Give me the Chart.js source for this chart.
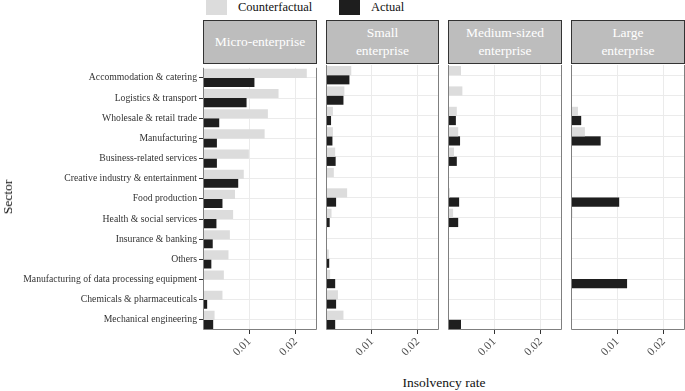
<!DOCTYPE html>
<html>
<head>
<meta charset="utf-8">
<script src="https://cdn.jsdelivr.net/npm/chart.js@4/dist/chart.umd.min.js"></script>
<style>
  html, body { margin:0; padding:0; background:#fff; }
  body { width:685px; height:391px; position:relative; overflow:hidden;
         font-family:'Liberation Serif','Times New Roman',serif; }
  canvas { position:absolute; }
  .strip { position:absolute; top:20px; height:44px; background:#bdbdbd; border:1px solid #333;
           box-sizing:border-box; color:#fff; font-size:13.5px; line-height:18px;
           display:flex; align-items:center; justify-content:center; text-align:center; }
  .lg-box { position:absolute; top:0; width:21px; height:15px; }
  .lg-txt { position:absolute; top:0; font-size:12.5px; line-height:15px; color:#111; }
  .title { position:absolute; font-size:13.5px; color:#111; }
</style>
</head>
<body>
<div class="lg-box" style="left:206px;background:#dcdcdc"></div>
<div class="lg-txt" style="left:238px">Counterfactual</div>
<div class="lg-box" style="left:339px;background:#1e1e1e"></div>
<div class="lg-txt" style="left:371px">Actual</div>

<div class="strip" style="left:203px;width:114px">Micro-enterprise</div>
<div class="strip" style="left:326px;width:113px">Small<br>enterprise</div>
<div class="strip" style="left:448px;width:114px">Medium-sized<br>enterprise</div>
<div class="strip" style="left:571px;width:114px">Large<br>enterprise</div>

<canvas id="c1" width="319" height="305" style="left:0px;top:60px"></canvas>
<canvas id="c2" width="117" height="305" style="left:324px;top:60px"></canvas>
<canvas id="c3" width="118" height="305" style="left:446px;top:60px"></canvas>
<canvas id="c4" width="116" height="305" style="left:569px;top:60px"></canvas>

<div class="title" style="left:0;width:16px;top:197px;">
  <div style="position:absolute;left:8px;top:0;transform:translate(-50%,-50%) rotate(-90deg);white-space:nowrap">Sector</div>
</div>
<div class="title" style="left:344px;width:200px;top:375px;text-align:center">Insolvency rate</div>

<script>
const categories = [
  "Accommodation & catering",
  "Logistics & transport",
  "Wholesale & retail trade",
  "Manufacturing",
  "Business-related services",
  "Creative industry & entertainment",
  "Food production",
  "Health & social services",
  "Insurance & banking",
  "Others",
  "Manufacturing of data processing equipment",
  "Chemicals & pharmaceuticals",
  "Mechanical engineering"
];
const seriesNames = ["Counterfactual", "Actual"];
const panelNames = ["Micro-enterprise", "Small enterprise", "Medium-sized enterprise", "Large enterprise"];
const xTicks = [0.01, 0.02];
const xMax = 0.0246;

const cfMicro  = [0.0224,0.0163,0.0140,0.0133,0.0099,0.0088,0.0069,0.0065,0.0058,0.0055,0.0045,0.0042,0.0025];
const acMicro  = [0.0111,0.0094,0.0035,0.0030,0.0030,0.0076,0.0042,0.0029,0.0021,0.0018,0,0.0009,0.0022];
const cfSmall  = [0.0055,0.0040,0.0015,0.0015,0.0020,0.0017,0.0046,0.0012,0,0.0006,0.0009,0.0026,0.0038];
const acSmall  = [0.0051,0.0038,0.0011,0.0014,0.0021,0,0.0022,0.0008,0,0.0007,0.0020,0.0022,0.0020];
const cfMedium = [0.0028,0.0031,0.0019,0.0022,0.0013,0,0.0004,0.0011,0,0,0,0,0.0002];
const acMedium = [0,0,0.0017,0.0026,0.0019,0,0.0024,0.0022,0,0,0,0,0.0028];
const cfLarge  = [0,0,0.0015,0.0030,0,0,0,0.0003,0,0,0,0,0];
const acLarge  = [0,0,0.0022,0.0064,0,0,0.0104,0,0,0,0.0121,0,0];

const FONT = "'Liberation Serif','Times New Roman',serif";

const borderPlugin = {
  id: 'panelBorder',
  afterDraw(chart) {
    const a = chart.chartArea, ctx = chart.ctx;
    ctx.save();
    ctx.strokeStyle = '#7f7f7f';
    ctx.lineWidth = 1;
    ctx.beginPath();
    ctx.moveTo(a.left + 0.5, a.top);
    ctx.lineTo(a.left + 0.5, a.bottom - 0.5);
    ctx.lineTo(a.right - 0.5, a.bottom - 0.5);
    ctx.lineTo(a.right - 0.5, a.top);
    ctx.stroke();
    ctx.restore();
  }
};

function makePanel(id, cf, ac, showLabels, padL, padR) {
  new Chart(document.getElementById(id), {
    type: 'bar',
    data: {
      labels: categories,
      datasets: [
        { label: seriesNames[0], data: cf, backgroundColor: '#dcdcdc', borderWidth: 0 },
        { label: seriesNames[1], data: ac, backgroundColor: '#1e1e1e', borderWidth: 0 }
      ]
    },
    options: {
      indexAxis: 'y',
      responsive: false,
      animation: false,
      devicePixelRatio: 1,
      categoryPercentage: 0.9,
      barPercentage: 1.0,
      layout: { padding: { top: 5, bottom: 0, left: padL, right: padR } },
      plugins: { legend: { display: false }, tooltip: { enabled: false } },
      scales: {
        x: {
          type: 'linear',
          min: 0, max: xMax,
          afterBuildTicks(scale) { scale.ticks = xTicks.map(v => ({ value: v })); },
          afterFit(scale) { scale.height = 35; },
          grid: { color: '#ebebeb', lineWidth: 1, drawTicks: true, tickLength: 4, tickColor: '#333' },
          border: { display: false },
          ticks: {
            minRotation: 45, maxRotation: 45, padding: 1,
            color: '#4d4d4d',
            font: { family: FONT, size: 11.5 },
            callback: v => String(v)
          }
        },
        y: {
          type: 'category',
          afterFit(scale) { scale.width = showLabels ? 203 : 0; },
          grid: { color: '#ebebeb', lineWidth: 1, offset: false,
                  drawTicks: showLabels, tickLength: 4, tickColor: '#333' },
          border: { display: false },
          ticks: {
            display: showLabels, padding: 2, autoSkip: false,
            color: '#333',
            font: { family: FONT, size: 9.7 }
          }
        }
      }
    },
    plugins: [borderPlugin]
  });
}

makePanel('c1', cfMicro, acMicro, true, 0, 2);
makePanel('c2', cfSmall, acSmall, false, 2, 2);
makePanel('c3', cfMedium, acMedium, false, 2, 2);
makePanel('c4', cfLarge, acLarge, false, 2, 0);
</script>
</body>
</html>
